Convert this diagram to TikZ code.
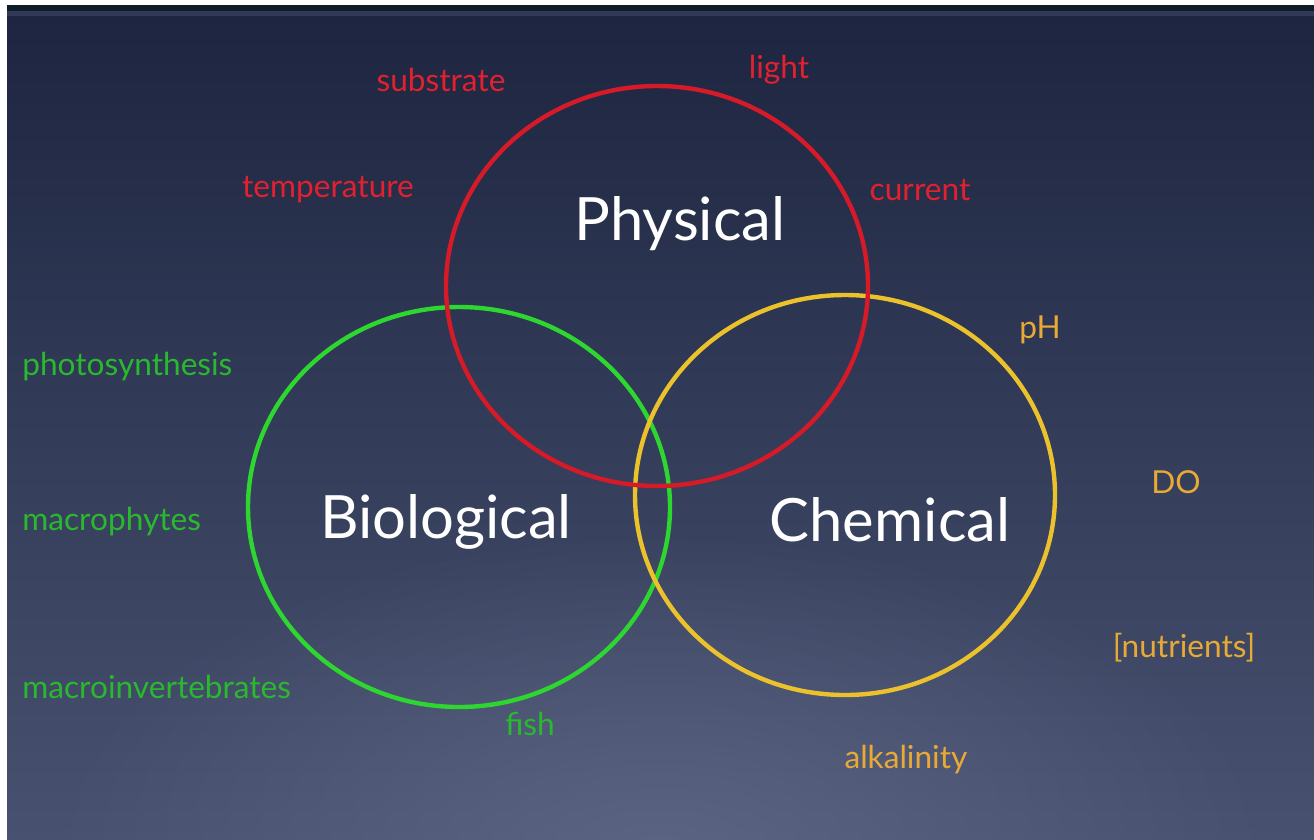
\documentclass[tikz,border=0pt]{standalone}
\usepackage{fontspec}
\setmainfont{Lato}
\usepackage{tikz}
\usetikzlibrary{fadings}
\definecolor{bgtop}     {RGB}{29,37,64}
\definecolor{bgbot}     {RGB}{72,82,112}
\definecolor{bglight}   {RGB}{98,108,138}
\definecolor{bgstrip}   {RGB}{14,28,38}
\definecolor{bgedge}    {RGB}{48,58,88}
\definecolor{physred}   {RGB}{214,26,40}
\definecolor{phystext}  {RGB}{226,32,46}
\definecolor{biogreen}  {RGB}{46,214,48}
\definecolor{biotext}   {RGB}{42,184,46}
\definecolor{chemgold}  {RGB}{236,194,44}
\definecolor{chemtext}  {RGB}{232,170,52}
\tikzfading[name=glowfade, inner color=transparent!0, outer color=transparent!100]
\tikzset{
  ring/.style    ={line width=2.5pt},
  physring/.style={ring, draw=physred},
  bioring/.style ={ring, draw=biogreen},
  chemring/.style={ring, draw=chemgold},
  title/.style   ={text=white, font=\fontsize{34}{40}\selectfont, inner sep=0pt},
  factor/.style  ={font=\fontsize{18}{22}\selectfont, inner sep=0pt},
  physlbl/.style ={factor, text=phystext},
  biolbl/.style  ={factor, text=biotext},
  chemlbl/.style ={factor, text=chemtext},
}
\begin{document}
\begin{tikzpicture}[x=0.02cm,y=-0.02cm]
  %% frame and background
  \useasboundingbox (0,0) rectangle (1314,839);
  \fill[white] (0,0) rectangle (1314,839);
  \shade[top color=bgtop, bottom color=bgbot] (7,16) rectangle (1314,839);
  \begin{scope}
    \clip (7,16) rectangle (1314,839);
    \fill[bglight, path fading=glowfade, opacity=0.75] (660,860) ellipse (620 and 330);
  \end{scope}
  \fill[bgstrip] (7,5) rectangle (1314,11);
  \fill[bgedge] (7,11) rectangle (1314,16);
  %% rings
  \draw[bioring]  (459,507) ellipse (211 and 200);
  \draw[chemring] (845,495) ellipse (210 and 200);
  \draw[physring] (657,286) ellipse (211 and 200);
  %% titles
  \node[title] (phys) at (680,224) {Physical};
  \node[title] (bio)  at (446,522) {Biological};
  \node[title] (chem) at (890,520) {Chemical};
  %% physical factors
  \node[physlbl] (subs) at (441,80)  {substrate};
  \node[physlbl] (lght) at (779,70)  {light};
  \node[physlbl] (temp) at (328,190) {temperature};
  \node[physlbl] (curr) at (920,190) {current};
  %% biological factors
  \node[biolbl, anchor=west] (phot) at (22,367) {photosynthesis};
  \node[biolbl, anchor=west] (mphy) at (22,522) {macrophytes};
  \node[biolbl, anchor=west] (minv) at (22,687) {macroinvertebrates};
  \node[biolbl] (fish) at (530,724) {fish};
  %% chemical factors
  \node[chemlbl] (ph)   at (1040,330) {pH};
  \node[chemlbl] (do)   at (1176,482) {DO};
  \node[chemlbl] (nutr) at (1184,648) {[nutrients]};
  \node[chemlbl] (alk)  at (906,760)  {alkalinity};
\end{tikzpicture}
\end{document}
